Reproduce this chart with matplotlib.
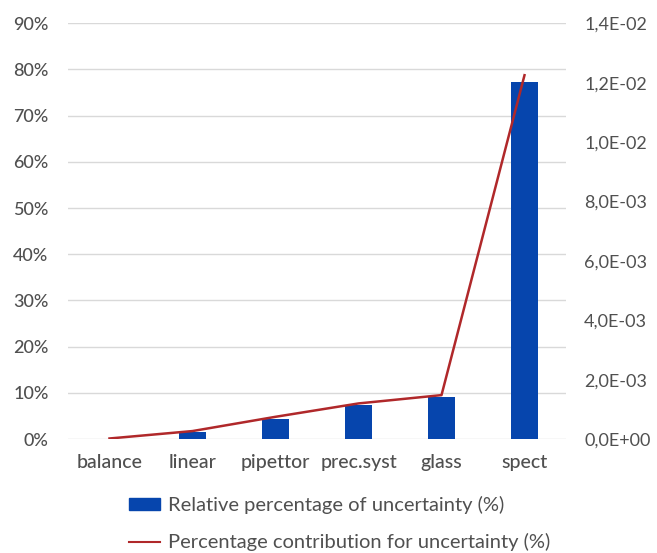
import numpy as np
import matplotlib.pyplot as plt
from matplotlib.ticker import FuncFormatter
from matplotlib.patches import Patch
from matplotlib.lines import Line2D

categories = ['balance', 'linear', 'pipettor', 'prec.syst', 'glass', 'spect']
relative_pct = [0.1, 1.6, 4.3, 7.4, 9.2, 77.3]
contribution = [0.00002, 0.00027, 0.00075, 0.0012, 0.00148, 0.01225]

bar_color = '#0645AD'
line_color = '#B0282A'
text_color = '#505050'

plt.rcParams['font.family'] = ['Lato', 'DejaVu Sans']

fig = plt.figure(figsize=(6.57, 5.53), dpi=100)
ax = fig.add_axes([0.1035, 0.206, 0.758, 0.752])
x = np.arange(len(categories))
ax.bar(x, relative_pct, width=0.32, color=bar_color, zorder=2)
ax.set_ylim(0, 90)
ax.set_yticks(np.arange(0, 91, 10))
ax.yaxis.set_major_formatter(FuncFormatter(lambda v, p: '{:d}%'.format(int(v))))
ax.set_xlim(-0.5, 5.5)
ax.set_xticks(x)
ax.set_xticklabels(categories)
ax.grid(axis='y', color='#d9d9d9', linewidth=1, zorder=0)
ax.set_axisbelow(True)
for s in ax.spines.values():
    s.set_visible(False)
ax.tick_params(length=0, labelsize=13, colors=text_color, pad=14)
ax.tick_params(axis='x', labelsize=14, pad=11)
for t in ax.get_xticklabels() + ax.get_yticklabels():
    t.set_fontweight('medium')

ax2 = ax.twinx()
ax2.plot(x, contribution, color=line_color, linewidth=1.8, zorder=3)
ax2.set_ylim(0, 0.014)
ax2.set_yticks(np.arange(0, 0.0141, 0.002))
ax2.yaxis.set_major_formatter(FuncFormatter(lambda v, p: '{:.1E}'.format(v).replace('.', ',')))
for s in ax2.spines.values():
    s.set_visible(False)
ax2.tick_params(length=0, labelsize=13, colors=text_color, pad=13)

handles = [Patch(color=bar_color, label='Relative percentage of uncertainty (%)'),
           Line2D([0], [0], color=line_color, linewidth=1.5,
                  label='Percentage contribution for uncertainty (%)')]
leg = fig.legend(handles=handles, loc='lower left', bbox_to_anchor=(0.168, -0.03),
                 frameon=False, fontsize=14.5, handlelength=1.55, handleheight=0.55,
                 labelspacing=0.95, handletextpad=0.4)
for t in leg.get_texts():
    t.set_color(text_color)

fig.savefig('out.png', dpi=100)
